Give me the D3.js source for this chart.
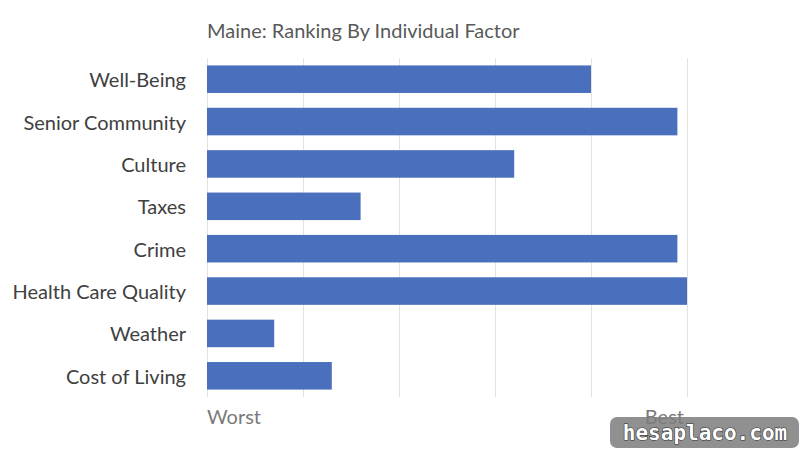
<!DOCTYPE html>
<meta charset="utf-8">
<style>
body { margin: 0; background: #fff; }
text { font-family: Lato, "Open Sans", sans-serif; }
text.wm { font-family: "DejaVu Sans Mono", monospace; }
</style>
<body>
<script src="https://d3js.org/d3.v7.min.js"></script>
<script>

// chart data
var factors = ["Well-Being", "Senior Community", "Culture", "Taxes", "Crime", "Health Care Quality", "Weather", "Cost of Living"];
var scores = [40, 49, 32, 16, 49, 50, 7, 13];   // 0 = worst, 50 = best
var tickValues = [0, 10, 20, 30, 40, 50];
var endLabels = ["Worst", "Best"];

var W = 800, H = 454;
var margin = {top: 58, right: 113, bottom: 57, left: 207},
    width = W - margin.left - margin.right,
    height = H - margin.top - margin.bottom;

var svg = d3.select("body").append("svg")
    .attr("width", W)
    .attr("height", H);

var g = svg.append("g")
    .attr("transform", "translate(" + margin.left + "," + margin.top + ")");

var x = d3.scaleLinear().domain([0, 50]).range([0, width]);
var y = d3.scaleBand().domain(factors).range([0, height]).paddingInner(0.35).paddingOuter(0.175);

// gridlines
g.selectAll(".grid")
    .data(tickValues)
  .enter().append("line")
    .attr("x1", function(d) { return x(d) + 0.5; })
    .attr("x2", function(d) { return x(d) + 0.5; })
    .attr("y1", 0)
    .attr("y2", height)
    .attr("stroke", "#e2e2e2")
    .attr("stroke-width", 1);

// bars
g.selectAll(".bar")
    .data(factors)
  .enter().append("rect")
    .attr("x", x(0))
    .attr("y", function(d) { return y(d); })
    .attr("width", function(d, i) { return x(scores[i]) - x(0); })
    .attr("height", y.bandwidth())
    .attr("fill", "#4a6fbd");

// category labels
g.selectAll(".cat")
    .data(factors)
  .enter().append("text")
    .attr("x", -21)
    .attr("y", function(d) { return y(d) + y.bandwidth() / 2 + 1; })
    .attr("dy", "0.35em")
    .attr("text-anchor", "end")
    .attr("font-size", 20)
    .attr("fill", "#404040")
    .text(function(d) { return d; });

// worst / best labels
g.append("text")
    .attr("x", x(0))
    .attr("y", height + 27)
    .attr("font-size", 20)
    .attr("fill", "#7a7a7a")
    .text(endLabels[0]);
g.append("text")
    .attr("x", x(50) - 3)
    .attr("y", height + 27)
    .attr("text-anchor", "end")
    .attr("font-size", 20)
    .attr("fill", "#7a7a7a")
    .text(endLabels[1]);

// title
svg.append("text")
    .attr("x", 207)
    .attr("y", 38)
    .attr("font-size", 20)
    .attr("fill", "#595959")
    .text("Maine: Ranking By Individual Factor");

// watermark
var wm = svg.append("g");
wm.append("rect")
    .attr("x", 610).attr("y", 417)
    .attr("width", 189).attr("height", 31)
    .attr("rx", 7)
    .attr("fill", "#7d7d7d").attr("opacity", 0.85);
wm.append("text")
    .attr("class", "wm")
    .attr("x", 705).attr("y", 440)
    .attr("text-anchor", "middle")
    .attr("font-weight", "bold")
    .attr("font-size", 21)
    .attr("fill", "#fff")
    .attr("stroke", "#333")
    .attr("stroke-width", 1.2)
    .attr("paint-order", "stroke")
    .text("hesaplaco.com");

</script>
</body>
